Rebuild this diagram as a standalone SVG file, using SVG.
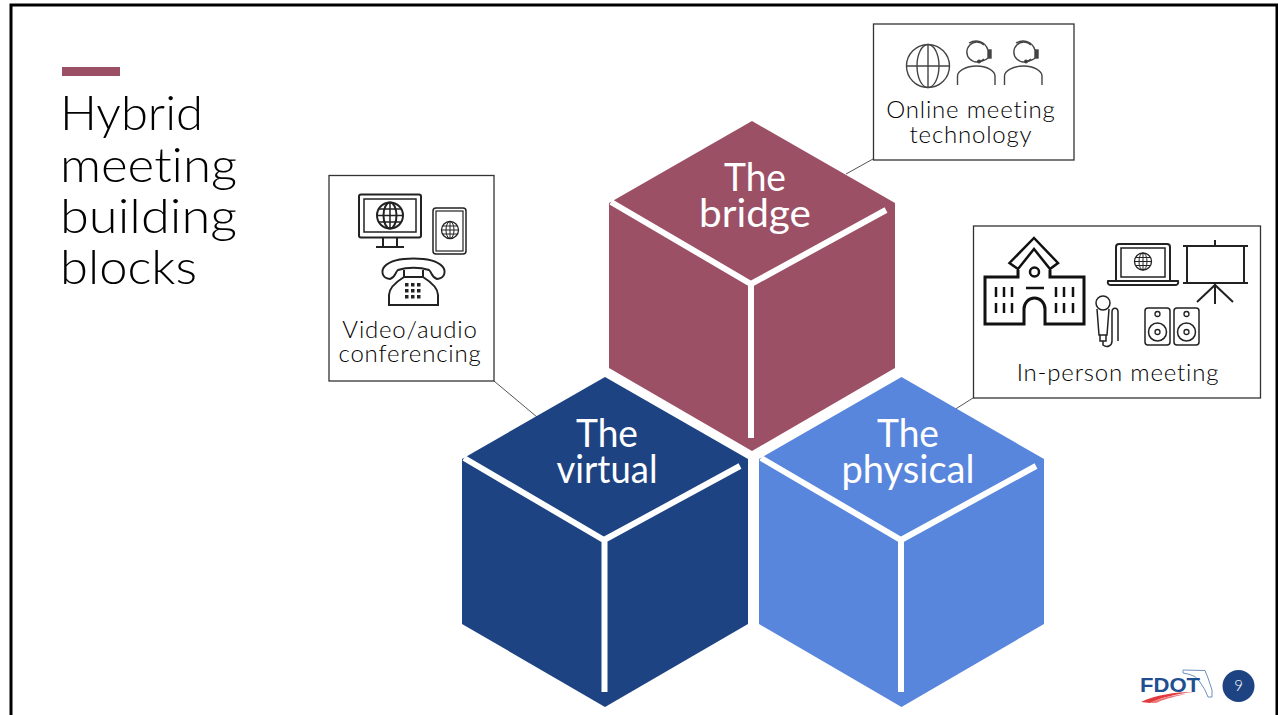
<svg xmlns="http://www.w3.org/2000/svg" width="1278" height="715" viewBox="0 0 1278 715">
<defs><style>
text{font-family:"Lato","Noto Sans","Liberation Sans",sans-serif;font-variant-ligatures:none}
.title{font-size:48px;font-weight:300;fill:#000}
.cube{font-size:38px;fill:#fff;text-anchor:middle;font-weight:400}
.lab{font-size:24px;fill:#000;text-anchor:middle;font-weight:300;letter-spacing:.8px}
.box{fill:#fff;stroke:#333;stroke-width:1.3}
.ln{fill:none;stroke:#fff;stroke-width:6}
.ic{fill:none;stroke:#222;stroke-width:2}
.ict{fill:none;stroke:#111;stroke-width:3}
.th{fill:none;stroke:#444;stroke-width:1.4}
.conn{stroke:#555;stroke-width:1;fill:none}
</style></defs>
<rect width="1278" height="715" fill="#fff"/>
<path d="M11 715V5H1277V715" fill="none" stroke="#000" stroke-width="3"/>
<g id="title">
<rect x="62" y="67" width="58" height="9" fill="#9c5066"/>
<text class="title" x="60" y="130" textLength="143" lengthAdjust="spacingAndGlyphs">Hybrid</text>
<text class="title" x="60" y="182" textLength="177" lengthAdjust="spacingAndGlyphs">meeting</text>
<text class="title" x="60" y="233" textLength="177" lengthAdjust="spacingAndGlyphs">building</text>
<text class="title" x="60" y="284" textLength="137" lengthAdjust="spacingAndGlyphs">blocks</text>
</g>
<g id="connectors">
<path class="conn" d="M873 159L846 174"/>
<path class="conn" d="M494 381L537 417"/>
<path class="conn" d="M973 398L954 410"/>
</g>
<g id="cube-bridge">
<path d="M752 121L895 203V368L752 451L609 368V203Z" fill="#9c5066"/>
<path class="ln" d="M611 202L751 284L886 210M751 284V438"/>
<text class="cube" x="755" y="191" textLength="62" lengthAdjust="spacingAndGlyphs">The</text>
<text class="cube" x="755" y="227" textLength="112" lengthAdjust="spacingAndGlyphs">bridge</text>
</g>
<g id="cube-virtual">
<path d="M605 377L748 459V624L605 707L462 624V459Z" fill="#1d4382"/>
<path class="ln" d="M464 458L604 540L740 466M604.500 540V692"/>
<text class="cube" x="607" y="447" textLength="62" lengthAdjust="spacingAndGlyphs">The</text>
<text class="cube" x="607" y="483" textLength="101" lengthAdjust="spacingAndGlyphs">virtual</text>
</g>
<g id="cube-physical">
<path d="M901.500 377L1044 459V624L901.500 707L759 624V459Z" fill="#5886dc"/>
<path class="ln" d="M761 458L901 540L1036 466M901 540V692"/>
<text class="cube" x="908" y="447" textLength="62" lengthAdjust="spacingAndGlyphs">The</text>
<text class="cube" x="908" y="483" textLength="133" lengthAdjust="spacingAndGlyphs">physical</text>
</g>
<g id="box-online">
<rect class="box" x="873.500" y="24" width="200.500" height="136"/>
<g class="th">
<circle cx="928" cy="66" r="21.500"/><ellipse cx="928" cy="66" rx="11" ry="21.500"/><path d="M928 44.500V87.500M906.500 66H949.500"/>
<g id="agent1"><path d="M957.500 85V76C957.500 71 966 66 976.500 66C987 66 995 71 995 76V85"/><path d="M984 45A10 10 0 1 0 984 59"/><path d="M969 43C976 39 985 41 988 50"/><rect x="988" y="50" width="3" height="8" fill="#444"/><path d="M988 58C986 60 983 61 979 61.500"/><circle cx="979" cy="61.500" r="1.300" fill="#222"/></g>
<g id="agent2" transform="translate(47,0)"><path d="M957.500 85V76C957.500 71 966 66 976.500 66C987 66 995 71 995 76V85"/><path d="M984 45A10 10 0 1 0 984 59"/><path d="M969 43C976 39 985 41 988 50"/><rect x="988" y="50" width="3" height="8" fill="#444"/><path d="M988 58C986 60 983 61 979 61.500"/><circle cx="979" cy="61.500" r="1.300" fill="#222"/></g>
</g>
<text class="lab" x="971" y="118">Online meeting</text>
<text class="lab" x="971" y="143">technology</text>
</g>
<g id="box-video">
<rect class="box" x="329" y="175.500" width="165" height="205.500"/>
<g class="ic">
<rect x="359" y="194.500" width="62" height="43" rx="2"/><rect x="364" y="199" width="52" height="33" stroke-width="1.500"/>
<path d="M383 238V247M397 238V247M376 247H404" />
<circle cx="390" cy="215.500" r="13"/><ellipse cx="390" cy="215.500" rx="6.500" ry="13"/><path d="M390 202.500V228.500M377 215.500H403M379 209H401M379 222H401" stroke-width="1.500"/>
<rect x="433" y="208" width="33" height="46" rx="3" stroke-width="1.500"/><rect x="436" y="211" width="27" height="40" stroke-width="1.200"/>
<circle cx="450" cy="230" r="8.500" stroke-width="1.300"/><ellipse cx="450" cy="230" rx="4" ry="8.500" stroke-width="1"/><path d="M450 221.500V238.500M441.500 230H458.500M443 226H457M443 234H457" stroke-width="1"/>
<path d="M390 279C381 278 381 270 385 266C395 256 432 256 442 266C446 270 446 278 437 279C431 277 432 272 429 270C420 267 407 267 398 270C395 272 396 277 390 279Z"/>
<path d="M404 270V277H423V270M404 277C396 282 389 288 389 295V305H438V295C438 288 431 282 423 277" />
</g>
<g id="keypad" fill="#222"><rect x="405" y="283" width="3.500" height="3.500"/><rect x="411" y="283" width="3.500" height="3.500"/><rect x="417" y="283" width="3.500" height="3.500"/><rect x="405" y="289" width="3.500" height="3.500"/><rect x="411" y="289" width="3.500" height="3.500"/><rect x="417" y="289" width="3.500" height="3.500"/><rect x="405" y="295" width="3.500" height="3.500"/><rect x="411" y="295" width="3.500" height="3.500"/><rect x="417" y="295" width="3.500" height="3.500"/></g>
<text class="lab" x="410" y="338">Video/audio</text>
<text class="lab" x="410" y="362">conferencing</text>
</g>
<g id="box-inperson">
<rect class="box" x="973.500" y="226" width="287" height="172"/>
<g class="ict">
<path d="M1018 270V277H985V324H1024V309A10.500 11 0 0 1 1045 309V324H1084V277H1050V270"/>
<path d="M1018 269L1034 249L1050 269L1058 263L1034 238L1009.500 263Z" stroke-width="2.500"/>
<circle cx="1034.500" cy="272" r="4.500" stroke-width="2.500"/><path d="M1026 288H1044" stroke-width="2.500"/>
<path d="M996 287V297M1004 287V297M1012 287V297M996 303V313M1004 303V313M1012 303V313M1056 287V297M1064 287V297M1073 287V297M1056 303V313M1064 303V313M1073 303V313" stroke-width="2.500"/>
</g>
<g class="ic">
<path d="M1116 281V247C1116 245 1117 244 1119 244H1167C1169 244 1170 245 1170 247V281"/><rect x="1121" y="248" width="44" height="29" stroke-width="1.500"/>
<path d="M1108 281H1178C1179 284 1177 285 1175 285H1111C1109 285 1107 284 1108 281Z"/>
<circle cx="1143" cy="261.500" r="8.500" stroke-width="1.300"/><ellipse cx="1143" cy="261.500" rx="4" ry="8.500" stroke-width="1"/><path d="M1143 253V270M1134.500 261.500H1151.500M1136 257.500H1150M1136 265.500H1150" stroke-width="1"/>
<path d="M1183 246H1248M1183 283H1248M1187 246V283M1244 246V283M1215 240V246M1215 283V304M1197 302L1215 285L1233 302" stroke-width="2"/>
<circle cx="1103" cy="303" r="7" stroke-width="1.500"/><path d="M1097 309L1099 335H1107L1109 309M1100 335V341H1106V335" stroke-width="1.500"/>
<path d="M1103 341V345C1107 348 1112 346 1112 341V312C1112 307 1118 307 1118 312V341" stroke-width="1.500"/>
<rect x="1145" y="308" width="25" height="37" rx="3" stroke-width="1.500"/><rect x="1174" y="308" width="25" height="37" rx="3" stroke-width="1.500"/>
<circle cx="1157.500" cy="314" r="2.500" stroke-width="1.300"/><circle cx="1157.500" cy="332" r="9" stroke-width="1.500"/><circle cx="1157.500" cy="332" r="2.500" stroke-width="1.300"/>
<circle cx="1186.500" cy="314" r="2.500" stroke-width="1.300"/><circle cx="1186.500" cy="332" r="9" stroke-width="1.500"/><circle cx="1186.500" cy="332" r="2.500" stroke-width="1.300"/>
</g>
<text class="lab" x="1118" y="381">In-person meeting</text>
</g>
<g id="footer">
<path d="M1183 670L1205 670.500L1208 678L1212 690V697H1208L1205 690L1200 682L1195 676.500L1188 674L1183 673Z" fill="#fff" stroke="#6f8fc0" stroke-width="1"/>
<text x="1140" y="692" font-size="20" font-weight="700" fill="#1f4e91" style="font-family:'Liberation Sans',sans-serif" textLength="60" lengthAdjust="spacingAndGlyphs">FDOT</text>
<path d="M1141 702C1155 695 1175 692 1194 692C1175 694 1160 698 1150 703Z" fill="#e0393e"/>
<path d="M1150 703C1160 698 1172 695 1186 694C1172 697 1162 700 1156 703Z" fill="#ee7a7c"/>
<circle cx="1238.500" cy="686" r="16" fill="#1d4382"/>
<text x="1238.500" y="691" font-size="15" font-weight="300" fill="#fff" text-anchor="middle">9</text>
</g>
</svg>
